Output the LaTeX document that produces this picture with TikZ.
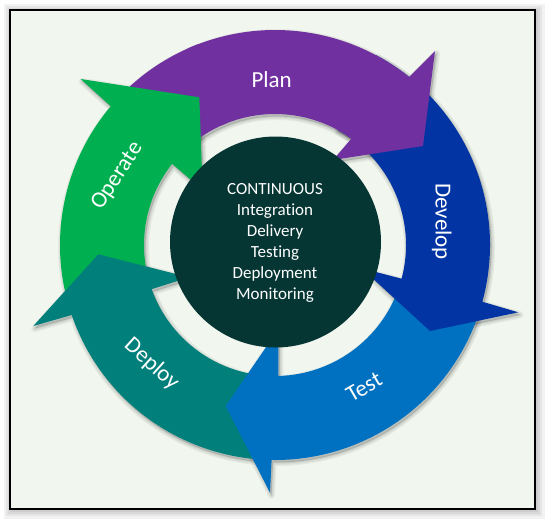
\documentclass[tikz,border=0pt]{standalone}
\usepackage{fontspec}
\setmainfont{Carlito}[Ligatures={NoCommon}]
\definecolor{cBg}{HTML}{F1F6EF}
\definecolor{cPlan}{HTML}{7030A0}
\definecolor{cDevelop}{HTML}{0234A3}
\definecolor{cTest}{HTML}{0070C0}
\definecolor{cDeploy}{HTML}{007F7B}
\definecolor{cOperate}{HTML}{00B050}
\definecolor{cCore}{HTML}{063634}
\newcommand\rOut{215}
\newcommand\rIn{131}
\newcommand\shpOperate{([shift={(166:\rOut)}]275,245) arc[start angle=166, end angle=220.2, radius=\rOut] -- (80.7,79) -- (199.3,97.3) -- (202.7,190) -- ([shift={(218.3:\rIn)}]275,245) arc[start angle=218.3, end angle=166, radius=\rIn] -- cycle}
\newcommand\shpPlan[1]{([shift={(#1:\rOut)}]275,245) arc[start angle=#1, end angle=308.6, radius=\rOut] -- (435,51) -- (423,146) -- (333,160) -- ([shift={(305.7:\rIn)}]275,245) arc[start angle=305.7, end angle=#1, radius=\rIn] -- cycle}
\newcommand\shpDevelop{([shift={(298:\rOut)}]275,245) arc[start angle=298, end angle=375.3, radius=\rOut] -- (518.3,312.3) -- (430,331) -- (361.7,268.3) -- ([shift={(374.9:\rIn)}]275,245) arc[start angle=374.9, end angle=298, radius=\rIn] -- cycle}
\newcommand\shpTest{([shift={(19:\rOut)}]275,245) arc[start angle=19, end angle=90.9, radius=\rOut] -- (270,492.7) -- (225.7,406) -- (278.5,329) -- ([shift={(88.5:\rIn)}]275,245) arc[start angle=88.5, end angle=19, radius=\rIn] -- cycle}
\newcommand\shpDeploy{([shift={(93:\rOut)}]275,245) arc[start angle=93, end angle=161, radius=\rOut] -- (33.3,326) -- (98.3,254.3) -- (189,277.3) -- ([shift={(160.3:\rIn)}]275,245) arc[start angle=160.3, end angle=93, radius=\rIn] -- cycle}
\tikzset{
  lbl/.style={text=white, font=\fontsize{23}{28}\selectfont, inner sep=0pt},
  coretext/.style={text=white, font=\fontsize{17}{20.9}\selectfont, align=center, inner sep=0pt},
  shadowlayer/.style={black, opacity=0.05, line join=round},
}
\begin{document}
\begin{tikzpicture}[x=1pt,y=-1pt]
\useasboundingbox (0,0) rectangle (545,520);
\fill[white] (0,0) rectangle (545,520);
% frame shadow
\foreach \w in {16,11,7,3}{
  \draw[black, opacity=0.05, line width=\w pt] (11.5,11.5) rectangle (536.5,510.5);
}
\filldraw[fill=cBg, draw=black, line width=1.3pt] (10,10) rectangle (535,509);
% arrow shadows
\begin{scope}[shift={(1.5,2.5)}]
  \foreach \w in {7,4.5,2}{
    \filldraw[shadowlayer, line width=\w pt] \shpOperate;
    \filldraw[shadowlayer, line width=\w pt] \shpPlan{227.5};
    \filldraw[shadowlayer, line width=\w pt] \shpDevelop;
    \filldraw[shadowlayer, line width=\w pt] \shpTest;
    \filldraw[shadowlayer, line width=\w pt] \shpDeploy;
  }
\end{scope}
% arrows
\fill[cPlan] ([shift={(227.5:\rOut)}]275,245) arc[start angle=227.5, end angle=249, radius=\rOut] -- ([shift={(249:\rIn)}]275,245) arc[start angle=249, end angle=227.5, radius=\rIn] -- cycle;
\fill[cOperate] \shpOperate;
\fill[cDeploy] \shpDeploy;
\fill[cTest] \shpTest;
\fill[cDevelop] \shpDevelop;
\fill[cPlan] \shpPlan{246};
% core
\node[circle, fill=cCore, minimum size=211pt, inner sep=0pt] (core) at (275.5,242) {};
\node[coretext] (ctext) at (275,243) {CONTINUOUS\\Integration\\Delivery\\Testing\\Deployment\\Monitoring};
% labels
\node[lbl] (plan) at (271.7,79.3) {Plan};
\node[lbl, rotate=-90] (develop) at (441.7,221.7) {Develop};
\node[lbl, rotate=30] (test) at (364,387) {Test};
\node[lbl, rotate=-42] (deploy) at (151.7,364.3) {Deploy};
\node[lbl, rotate=57] (operate) at (117.4,176) {Operate};
\end{tikzpicture}
\end{document}
